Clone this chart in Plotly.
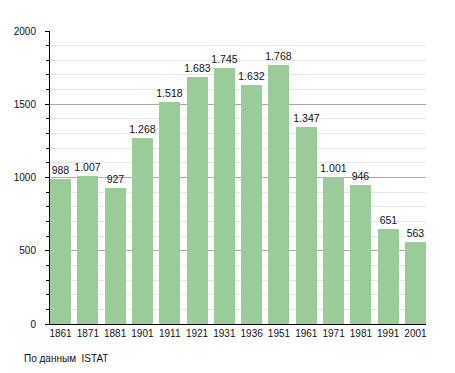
import plotly.graph_objects as go

years = ["1861", "1871", "1881", "1901", "1911", "1921", "1931", "1936", "1951", "1961", "1971", "1981", "1991", "2001"]
population = [988, 1007, 927, 1268, 1518, 1683, 1745, 1632, 1768, 1347, 1001, 946, 651, 563]
labels = ["988", "1.007", "927", "1.268", "1.518", "1.683", "1.745", "1.632", "1.768", "1.347", "1.001", "946", "651", "563"]
source_note = "По данным  ISTAT"

idx = list(range(len(years)))
w = 0.77

fig = go.Figure(go.Bar(
    x=idx, y=population, width=w,
    marker=dict(color="#99cc99", line=dict(width=0)),
    text=labels, textposition="outside", cliponaxis=False,
    constraintext="none",
    textfont=dict(size=10.5, color="#111111", family="Liberation Sans, Arial, sans-serif"),
    hoverinfo="x+y",
))

fig.update_layout(
    width=455, height=373,
    margin=dict(l=42, r=37, t=23, b=57),
    paper_bgcolor="white", plot_bgcolor="white",
    showlegend=False,
    font=dict(family="Liberation Sans, Arial, sans-serif", size=10, color="#111111"),
    bargap=0,
    xaxis=dict(
        tickmode="array", tickvals=idx, ticktext=years,
        range=[-w / 2, len(years) - 1 + w / 2],
        showgrid=False, showline=True, linecolor="black", linewidth=1,
        ticks="", zeroline=False, tickfont=dict(size=10), automargin=False,
    ),
    yaxis=dict(
        range=[0, 2000], tickvals=[0, 500, 1000, 1500, 2000],
        showgrid=True, gridcolor="#aaaaaa", gridwidth=1,
        showline=True, linecolor="black", linewidth=1,
        ticks="outside", ticklen=4, tickcolor="black", zeroline=False,
        ticklabelstandoff=7, tickfont=dict(size=10), automargin=False,
        minor=dict(dtick=100, showgrid=True, gridcolor="#e6e6e6", gridwidth=1,
                   ticks="outside", ticklen=3, tickcolor="black"),
    ),
    annotations=[dict(
        text=source_note, xref="paper", yref="paper",
        x=(22 - 50) / 376, y=(324 - 358) / 293,
        xanchor="left", yanchor="middle", showarrow=False,
        font=dict(size=10, color="#111111"),
    )],
)

fig.write_html("out.html")
